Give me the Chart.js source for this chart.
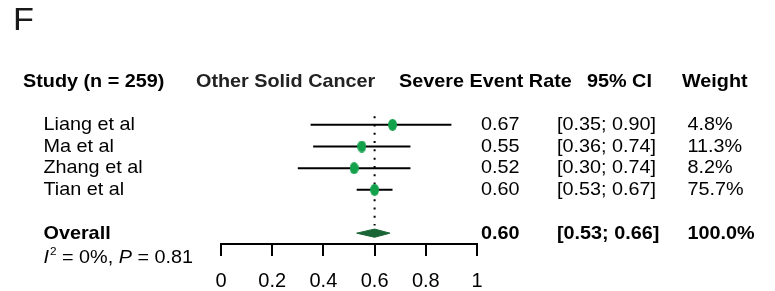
<!DOCTYPE html>
<html>
<head>
<meta charset="utf-8">
<script src="https://cdn.jsdelivr.net/npm/chart.js@4/dist/chart.umd.min.js"></script>
<style>
  html, body { margin: 0; padding: 0; background: #ffffff; }
  #wrap { width: 775px; height: 291px; position: relative; }
</style>
</head>
<body>
<div id="wrap"><canvas id="c" width="775" height="291"></canvas></div>
<script>
// ---------------- data ----------------
const panelLabel = "F";
const headers = ["Study (n = 259)", "Other Solid Cancer", "Severe Event Rate", "95% CI", "Weight"];
const studies = ["Liang et al", "Ma et al", "Zhang et al", "Tian et al"];
const rates = [0.67, 0.55, 0.52, 0.60];
const lowerCI = [0.35, 0.36, 0.30, 0.53];
const upperCI = [0.90, 0.74, 0.74, 0.67];
const weights = [4.8, 11.3, 8.2, 75.7];
const overallLabel = "Overall";
const overallRate = 0.60;
const overallLower = 0.53;
const overallUpper = 0.66;
const overallWeight = 100.0;
const heterogeneityI2 = "0%";
const heterogeneityP = "0.81";
const xTicks = [0, 0.2, 0.4, 0.6, 0.8, 1];

// ---------------- rows (y positions in row units) ----------------
const studyRows = studies.map((s, i) => i + 1);
const headerRow = -1;
const overallRow = 6;
const hetRow = 7.15;
const DIAMOND_HALF = 0.19;

// ellipse marker image
function ellipseMarker(w, h, color) {
  const cv = document.createElement('canvas');
  cv.width = w; cv.height = h;
  const g = cv.getContext('2d');
  g.fillStyle = color;
  g.beginPath();
  g.ellipse(w / 2, h / 2, w / 2, h / 2, 0, 0, Math.PI * 2);
  g.fill();
  return cv;
}
const marker = ellipseMarker(9, 12, '#13a24b');

const datasets = [];
// study point estimates (on top)
datasets.push({
  label: 'estimates',
  data: rates.map((v, i) => ({ x: v, y: studyRows[i] })),
  pointStyle: marker,
  pointRadius: 6,
  showLine: false,
  order: 0
});
// confidence intervals
studies.forEach((s, i) => {
  datasets.push({
    label: 'ci-' + s,
    data: [{ x: lowerCI[i], y: studyRows[i] }, { x: upperCI[i], y: studyRows[i] }],
    showLine: true,
    borderColor: '#000000',
    borderWidth: 2,
    pointRadius: 0,
    order: 2
  });
});
// dotted reference line at overall estimate
datasets.push({
  label: 'ref',
  data: [{ x: overallRate, y: 0.6 }, { x: overallRate, y: 5.65 }],
  showLine: true,
  borderColor: '#000000',
  borderWidth: 2,
  borderDash: [2, 6.3],
  borderCapStyle: 'butt',
  pointRadius: 0,
  order: 3
});
// diamond (upper half filled to lower half)
datasets.push({
  label: 'diamond-top',
  data: [{ x: overallLower, y: overallRow }, { x: overallRate, y: overallRow - DIAMOND_HALF }, { x: overallUpper, y: overallRow }],
  showLine: true,
  borderColor: '#1a6536',
  borderWidth: 1,
  backgroundColor: '#1a6536',
  fill: '+1',
  pointRadius: 0,
  tension: 0,
  order: 1
});
datasets.push({
  label: 'diamond-bottom',
  data: [{ x: overallLower, y: overallRow }, { x: overallRate, y: overallRow + DIAMOND_HALF }, { x: overallUpper, y: overallRow }],
  showLine: true,
  borderColor: '#1a6536',
  borderWidth: 1,
  backgroundColor: '#1a6536',
  fill: false,
  pointRadius: 0,
  tension: 0,
  order: 1
});

const SX = 1.07;
const FONT = '"Liberation Sans", Arial, Helvetica, sans-serif';
function txt(ctx, s, x, y, font, color) {
  ctx.save();
  ctx.font = font;
  ctx.fillStyle = color || '#000';
  ctx.textBaseline = 'middle';
  ctx.textAlign = 'left';
  ctx.translate(x, y);
  ctx.scale(SX, 1);
  ctx.fillText(s, 0, 0);
  const w = ctx.measureText(s).width * SX;
  ctx.restore();
  return w;
}

const tablePlugin = {
  id: 'forestText',
  afterDraw(chart) {
    const ctx = chart.ctx;
    const ys = chart.scales.y;
    const reg = '18.5px ' + FONT;
    const bold = 'bold 18.5px ' + FONT;
    const ital = 'italic 18.5px ' + FONT;
    const colX = { study: 43.5, plot: 196, rate: 481, ci: 557, weight: 687.5 };
    const headX = [23, 196, 399, 587, 682];

    // panel label
    txt(ctx, panelLabel, 13, 21, '32px ' + FONT, '#1a1a1a');

    // headers
    const hy = ys.getPixelForValue(headerRow);
    headers.forEach((h, i) => txt(ctx, h, headX[i], hy, bold, i === 1 ? '#222' : '#000'));

    // study rows
    studies.forEach((s, i) => {
      const y = ys.getPixelForValue(studyRows[i]);
      txt(ctx, s, colX.study, y, reg);
      txt(ctx, rates[i].toFixed(2), colX.rate, y, reg);
      txt(ctx, '[' + lowerCI[i].toFixed(2) + '; ' + upperCI[i].toFixed(2) + ']', colX.ci, y, reg);
      txt(ctx, weights[i].toFixed(1) + '%', colX.weight, y, reg);
    });

    // overall
    const oy = ys.getPixelForValue(overallRow) + 1;
    txt(ctx, overallLabel, colX.study, oy, bold);
    txt(ctx, overallRate.toFixed(2), colX.rate, oy, bold);
    txt(ctx, '[' + overallLower.toFixed(2) + '; ' + overallUpper.toFixed(2) + ']', colX.ci, oy, bold);
    txt(ctx, overallWeight.toFixed(1) + '%', colX.weight, oy, bold);

    // heterogeneity
    const hy2 = ys.getPixelForValue(hetRow);
    let x = colX.study;
    x += txt(ctx, 'I', x, hy2, ital);
    x += 1;
    x += txt(ctx, '2', x, hy2 - 6, '11px ' + FONT);
    x += txt(ctx, ' = ' + heterogeneityI2 + ', ', x, hy2, reg);
    x += txt(ctx, 'P', x, hy2, ital);
    txt(ctx, ' = ' + heterogeneityP, x, hy2, reg);
  }
};

new Chart(document.getElementById('c'), {
  type: 'scatter',
  data: { datasets },
  options: {
    responsive: false,
    animation: false,
    devicePixelRatio: 1,
    layout: { padding: { left: 221, right: 298, top: 49, bottom: 0 } },
    plugins: { legend: { display: false }, tooltip: { enabled: false } },
    scales: {
      x: {
        type: 'linear',
        min: 0,
        max: 1,
        afterBuildTicks: (s) => { s.ticks = xTicks.map(v => ({ value: v })); },
        afterFit: (s) => { s.height = 47; },
        grid: { display: true, drawOnChartArea: false, drawTicks: true, tickLength: 12, color: '#000', lineWidth: 2 },
        border: { display: true, color: '#000', width: 2 },
        ticks: {
          color: '#000',
          padding: 13,
          maxRotation: 0,
          font: { family: FONT, size: 20 },
          callback: (v) => String(v)
        }
      },
      y: {
        type: 'linear',
        display: false,
        reverse: true,
        min: -2.5,
        max: 6.5
      }
    }
  },
  plugins: [tablePlugin]
});
</script>
</body>
</html>
